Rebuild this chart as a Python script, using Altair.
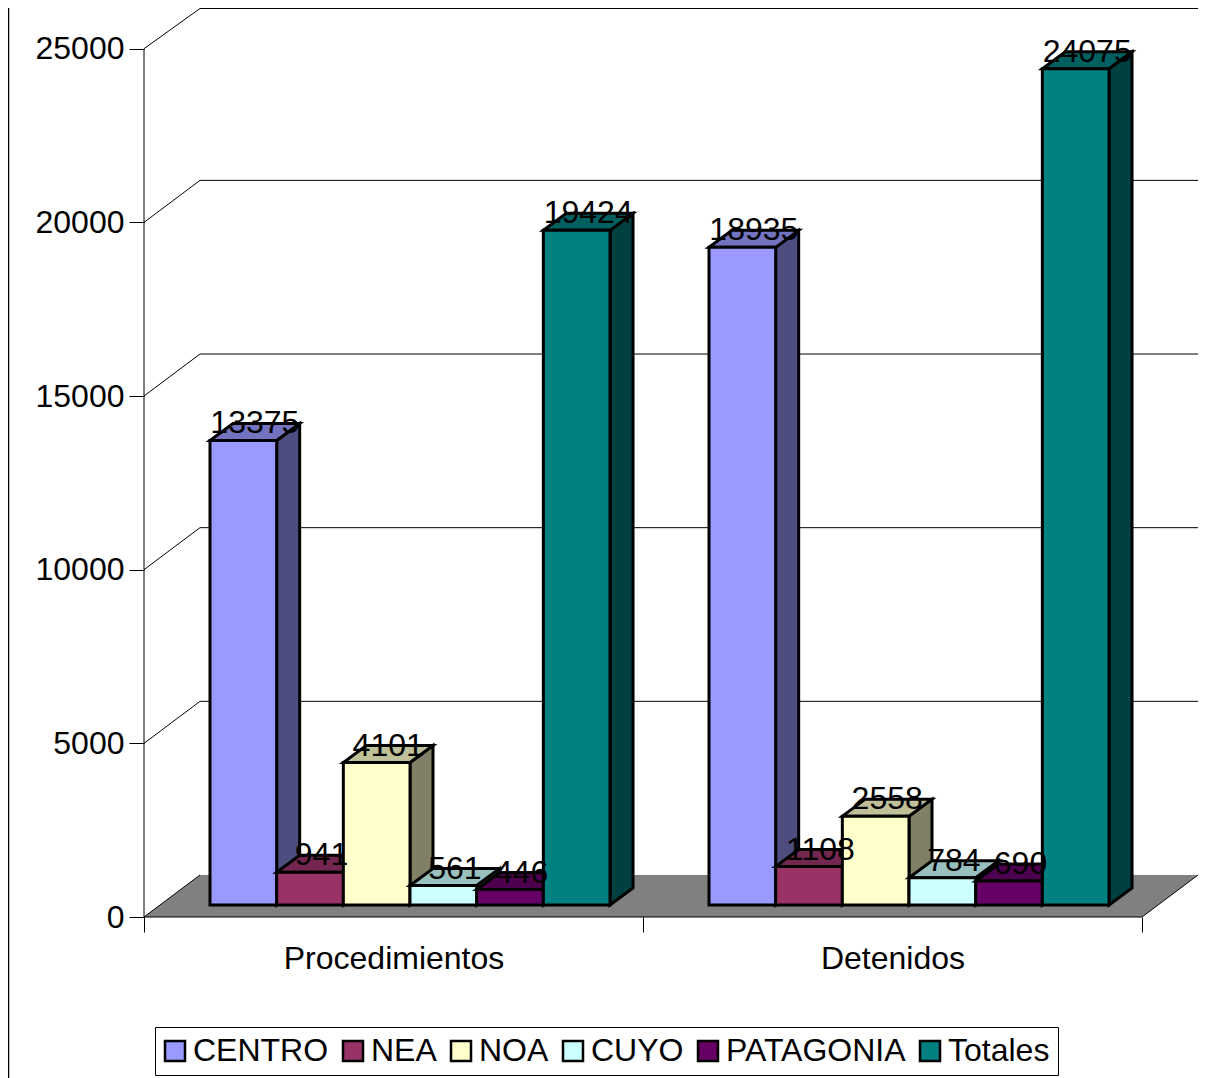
import altair as alt
import pandas as pd

categories = ["Procedimientos", "Detenidos"]
regions = ["CENTRO", "NEA", "NOA", "CUYO", "PATAGONIA", "Totales"]
procedimientos = [13375, 941, 4101, 561, 446, 19424]
detenidos = [18935, 1108, 2558, 784, 690, 24075]
front_colors = ["#9999FF", "#993366", "#FFFFCC", "#CCFFFF", "#660066", "#008080"]
top_colors = ["#7373BF", "#732650", "#BFBF99", "#99BFBF", "#4D004D", "#006060"]
side_colors = ["#4D4D80", "#4D1A33", "#808066", "#668080", "#330033", "#004040"]
y_ticks = [0, 5000, 10000, 15000, 20000, 25000]

FONT = "Liberation Sans"
PX_X = 499.0            # pixels per category
PX_Y = 868.3 / 25000    # pixels per value unit
PLOT_W, PLOT_H = 1054, 909
X_MAX = PLOT_W / PX_X
Y_MAX = PLOT_H / PX_Y

WALL_DX, WALL_DY = 56 / PX_X, 42 / PX_Y
DEPTH_DX, DEPTH_DY = 23 / PX_X, 17 / PX_Y
BAR_START, BAR_W = 66 / PX_X, 66.67 / PX_X
BASE = 12 / PX_Y

faces, fronts, labels = [], [], []
for c, series in enumerate([procedimientos, detenidos]):
    for r, value in enumerate(series):
        x0 = c + BAR_START + r * BAR_W
        x1 = x0 + BAR_W
        top = BASE + value
        fid = f"{c}-{r}"
        fronts.append(dict(region=regions[r], x0=x0, x1=x1, y0=BASE, y1=top))
        for x, a, b in [(x1, BASE, top), (x1 + DEPTH_DX, BASE + DEPTH_DY, top + DEPTH_DY)]:
            faces.append(dict(region=regions[r], face=fid + "s", fill=side_colors[r], x=x, a=a, b=b))
        for x, a, b in [
            (x0, top, top),
            (x0 + DEPTH_DX, top, top + DEPTH_DY),
            (x1, top, top + DEPTH_DY),
            (x1 + DEPTH_DX, top + DEPTH_DY, top + DEPTH_DY),
        ]:
            faces.append(dict(region=regions[r], face=fid + "t", fill=top_colors[r], x=x, a=a, b=b))
        labels.append(dict(x=(x0 + x1 + DEPTH_DX) / 2, y=top + DEPTH_DY, text=str(value)))

faces = pd.DataFrame(faces)
fronts = pd.DataFrame(fronts)
labels = pd.DataFrame(labels)

# back wall grid lines
grid = []
for v in y_ticks[1:]:
    back = min(v + WALL_DY, Y_MAX - 14)
    for i, (x, y) in enumerate([(0, v), (WALL_DX, back), (X_MAX, back)]):
        grid.append(dict(g=f"g{v}", i=i, x=x, y=y))
grid += [dict(g="axis", i=0, x=0, y=0), dict(g="axis", i=1, x=0, y=25000)]
grid += [
    dict(g="floorL", i=0, x=0, y=0), dict(g="floorL", i=1, x=WALL_DX, y=WALL_DY),
    dict(g="floorF", i=0, x=0, y=0), dict(g="floorF", i=1, x=2, y=0),
    dict(g="floorR", i=0, x=2, y=0), dict(g="floorR", i=1, x=2 + WALL_DX, y=WALL_DY),
]
grid = pd.DataFrame(grid)

floor = pd.DataFrame(
    [
        dict(x=0, a=0, b=0),
        dict(x=WALL_DX, a=0, b=WALL_DY),
        dict(x=2, a=0, b=WALL_DY),
        dict(x=2 + WALL_DX, a=WALL_DY, b=WALL_DY),
    ]
)

x_scale = alt.Scale(domain=[0, X_MAX], nice=False, zero=False)
y_scale = alt.Scale(domain=[0, Y_MAX], nice=False, zero=False)


def X(field):
    return alt.X(field, type="quantitative", scale=x_scale, title=None)


def Y(field):
    return alt.Y(field, type="quantitative", scale=y_scale, title=None)


x_axis = alt.Axis(
    values=[0, 0.5, 1, 1.5, 2],
    domain=False,
    grid=False,
    tickColor="black",
    tickWidth=1,
    tickSize=15,
    tickOpacity={"expr": "datum.value % 1 === 0 ? 1 : 0"},
    labelExpr=f"datum.value === 0.5 ? '{categories[0]}' : datum.value === 1.5 ? '{categories[1]}' : ''",
    labelFont=FONT,
    labelFontSize=32,
    labelColor="black",
    labelPadding=11,
    labelLimit=500,
    labelOverlap=False,
    labelFlush=False,
    labelBound=False,
    title=None,
)
y_axis = alt.Axis(
    values=y_ticks,
    domain=False,
    grid=False,
    tickColor="black",
    tickWidth=1,
    tickSize=15,
    labelFont=FONT,
    labelFontSize=32,
    labelColor="black",
    labelPadding=5,
    labelOverlap=False,
    labelFlush=False,
    labelBound=False,
    format="d",
    title=None,
)

frame = (
    alt.Chart(pd.DataFrame({"a": [0]}))
    .mark_rule(color="black", strokeWidth=1.5)
    .encode(x=alt.value(-135.5), y=alt.value(-8), y2=alt.value(1070))
)

floor_layer = (
    alt.Chart(floor)
    .mark_area(fill="#808080")
    .encode(
        x=alt.X("x:Q", scale=x_scale, axis=x_axis, title=None),
        y=alt.Y("a:Q", scale=y_scale, axis=y_axis, title=None),
        y2="b:Q",
    )
)

grid_layer = (
    alt.Chart(grid)
    .mark_line(color="black", strokeWidth=1)
    .encode(x=X("x"), y=Y("y"), detail="g:N", order="i:Q")
)

legend = alt.Legend(
    orient="none",
    legendX=11,
    legendY=1019,
    title=None,
    direction="horizontal",
    columns=6,
    symbolType="square",
    symbolSize=400,
    symbolStrokeColor="black",
    symbolStrokeWidth=2.5,
    symbolOpacity=1,
    symbolOffset={"expr": "-4"},
    labelFont=FONT,
    labelFontSize=32,
    labelColor="black",
    labelOffset=2,
    labelLimit=400,
    columnPadding=9,
    padding=8,
    strokeColor="black",
    fillColor="white",
)
color = alt.Color(
    "region:N",
    scale=alt.Scale(domain=regions, range=front_colors),
    sort=regions,
    legend=legend,
)

layers = [frame, floor_layer, grid_layer]
for name in regions:
    layers.append(
        alt.Chart(faces[faces.region == name])
        .mark_area(stroke="black", strokeWidth=3, strokeJoin="miter")
        .encode(
            x=X("x"),
            y=Y("a"),
            y2="b:Q",
            fill=alt.Fill("fill:N", scale=None),
            detail="face:N",
        )
    )
    layers.append(
        alt.Chart(fronts[fronts.region == name])
        .mark_rect(stroke="black", strokeWidth=3)
        .encode(x=X("x0"), x2="x1:Q", y=Y("y0"), y2="y1:Q", color=color)
    )

text_layer = (
    alt.Chart(labels)
    .mark_text(font=FONT, fontSize=32, color="black", align="center", baseline="middle")
    .encode(x=X("x"), y=Y("y"), text="text:N")
)
layers.append(text_layer)

chart = (
    alt.layer(*layers)
    .properties(
        width=PLOT_W,
        height=PLOT_H,
        padding={"left": 136, "top": 0, "right": 10, "bottom": 161},
        autosize=alt.AutoSizeParams(type="none"),
        background="white",
    )
    .configure_view(stroke=None)
)

chart.save("out.html", embed_options={"renderer": "svg", "actions": False})
